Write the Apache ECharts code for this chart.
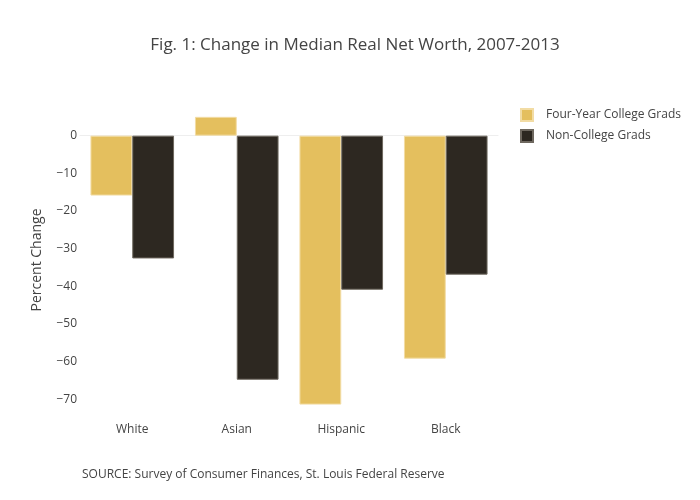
<!DOCTYPE html>
<html>
<head>
<meta charset="utf-8">
<script src="https://cdn.jsdelivr.net/npm/echarts@6/dist/echarts.min.js"></script>
<style>html,body{margin:0;padding:0;background:#fff}#c{width:700px;height:500px}</style>
</head>
<body>
<div id="c"></div>
<script>
const categories = ['White', 'Asian', 'Hispanic', 'Black'];
const fourYear = [-15.9, 5.0, -71.4, -59.2];
const nonCollege = [-32.6, -64.8, -40.9, -36.9];
const seriesNames = ['Four-Year College Grads', 'Non-College Grads'];
const yTicks = [-70, -60, -50, -40, -30, -20, -10, 0];

const font = '"Open Sans", "Noto Sans", sans-serif';
const chart = echarts.init(document.getElementById('c'), null, {renderer: 'canvas'});
chart.setOption({
  backgroundColor: '#fff',
  animation: false,
  title: {
    text: 'Fig. 1: Change in Median Real Net Worth, 2007-2013',
    left: 350, top: 32, textAlign: 'center',
    textStyle: {fontFamily: font, fontSize: 17, fontWeight: 'normal', color: '#444'}
  },
  legend: {
    orient: 'vertical', left: 515, top: 103, itemWidth: 12, itemHeight: 12, itemGap: 7,
    icon: 'rect',
    textStyle: {fontFamily: font, fontSize: 12, color: '#444', padding: [0, 0, 0, 8]},
    data: seriesNames
  },
  grid: {left: 80, right: 202, top: 98, bottom: 63},
  xAxis: [{
    type: 'category', data: categories,
    axisLine: {show: true, onZero: true, lineStyle: {color: '#eeeeee', width: 1}},
    axisTick: {show: false}, axisLabel: {show: false}
  }, {
    type: 'category', data: categories, position: 'bottom', offset: -21,
    axisLine: {show: false, onZero: false}, axisTick: {show: false},
    axisLabel: {fontFamily: font, fontSize: 12, color: '#444', margin: 8}
  }],
  yAxis: {
    type: 'value', min: -80, max: 10, interval: 10,
    axisLine: {show: false}, axisTick: {show: false}, splitLine: {show: false},
    axisLabel: {
      fontFamily: font, fontSize: 12, color: '#444', margin: 3, padding: [4, 0, 0, 0],
      formatter: v => yTicks.indexOf(v) >= 0 ? String(v).replace('-', '\u2212') : ''
    }
  },
  graphic: [
    {type: 'text', left: 82, top: 469, style: {text: 'SOURCE: Survey of Consumer Finances, St. Louis Federal Reserve', font: '12px ' + font, fill: '#444'}},
    {type: 'text', x: 37, y: 260, rotation: Math.PI / 2, style: {text: 'Percent Change', font: '14px ' + font, fill: '#444', align: 'center', verticalAlign: 'middle'}}
  ],
  series: [{
    name: seriesNames[0], type: 'bar', data: fourYear, xAxisIndex: 0,
    barGap: '0%', barCategoryGap: '20%',
    itemStyle: {color: '#e4bf5e', borderColor: '#f2dca4', borderWidth: 1}
  }, {
    name: seriesNames[1], type: 'bar', data: nonCollege, xAxisIndex: 0,
    barGap: '0%', barCategoryGap: '20%',
    itemStyle: {color: '#2d2821', borderColor: '#6e685f', borderWidth: 1}
  }]
});
</script>
</body>
</html>
